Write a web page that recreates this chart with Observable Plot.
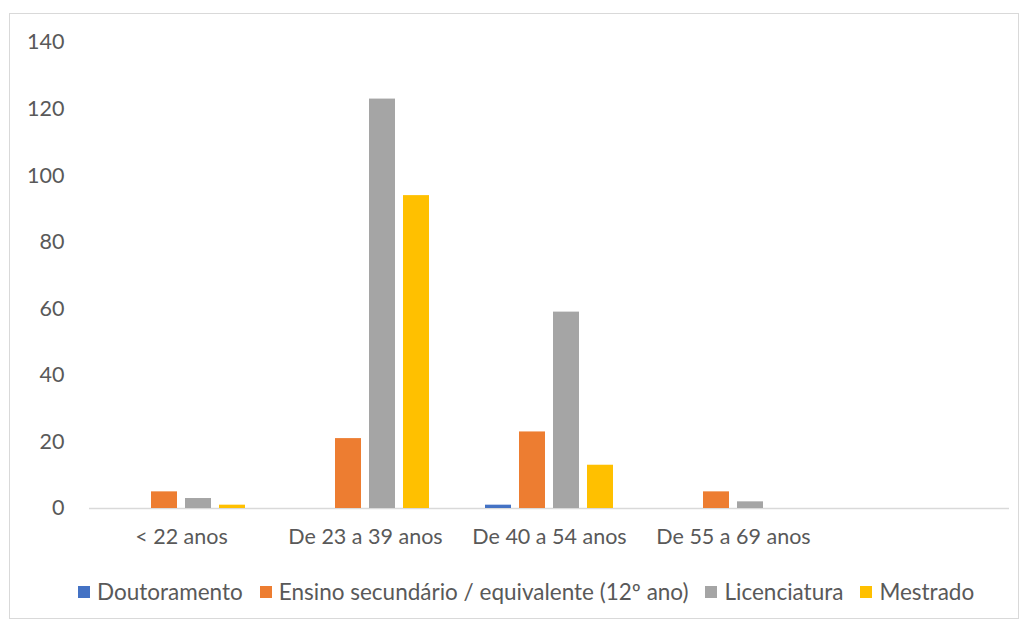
<!DOCTYPE html>
<html>
<head>
<meta charset="utf-8">
<script src="https://cdn.jsdelivr.net/npm/d3@7"></script>
<script src="https://cdn.jsdelivr.net/npm/@observablehq/plot@0.6"></script>
<style>
  html, body { margin: 0; padding: 0; background: #fff; }
  body { width: 1026px; height: 624px; position: relative; overflow: hidden; font-family: Lato, "Open Sans", sans-serif; }
  #frame { position: absolute; left: 9px; top: 13px; width: 1010px; height: 606px; border: 1px solid #d9d9d9; box-sizing: border-box; }
  #chart { position: absolute; left: 0; top: 0; }
  #legend { position: absolute; left: 78px; top: 578px; display: flex; gap: 17px; font-size: 22.5px; line-height: 28px; color: #595959; white-space: nowrap; }
  #legend .item { display: flex; align-items: center; gap: 7px; }
  #legend .sw { width: 12px; height: 12px; display: inline-block; }
</style>
</head>
<body>
<div id="frame"></div>
<div id="chart"></div>
<div id="legend"></div>
<script>
const categories = ["< 22 anos", "De 23 a 39 anos", "De 40 a 54 anos", "De 55 a 69 anos", " "];
const series = ["Doutoramento", "Ensino secundário / equivalente (12º ano)", "Licenciatura", "Mestrado"];
const colors = ["#4472C4", "#ED7D31", "#A5A5A5", "#FFC000"];
const doutoramento = [0, 0, 1, 0];
const ensinoSecundario = [5, 21, 23, 5];
const licenciatura = [3, 123, 59, 2];
const mestrado = [1, 94, 13, 0];
const yTicks = [0, 20, 40, 60, 80, 100, 120, 140];

const valuesBySeries = [doutoramento, ensinoSecundario, licenciatura, mestrado];
const data = [];
series.forEach((s, si) => {
  valuesBySeries[si].forEach((v, ci) => {
    data.push({category: categories[ci], series: s, value: v});
  });
});

const chart = Plot.plot({
  width: 1026,
  height: 560,
  marginLeft: 88,
  marginRight: 16,
  marginTop: 42,
  marginBottom: 52,
  style: {fontFamily: "Lato, 'Open Sans', sans-serif", fontSize: "21.5px", color: "#595959", background: "transparent"},
  fx: {domain: categories, paddingInner: 0, paddingOuter: 0, label: null, tickSize: 0, tickPadding: 20},
  x: {domain: series, paddingInner: 0.24, paddingOuter: 0.82, axis: null},
  y: {domain: [0, 140], ticks: yTicks, tickSize: 0, tickPadding: 25, label: null, line: false},
  color: {domain: series, range: colors},
  marks: [
    Plot.ruleY(categories, {fx: d => d, y: () => 0, stroke: "#d9d9d9", strokeWidth: 1.5}),
    Plot.barY(data, {fx: "category", x: "series", y: "value", fill: "series"})
  ]
});
document.getElementById("chart").appendChild(chart);

const legend = document.getElementById("legend");
series.forEach((s, i) => {
  const item = document.createElement("div");
  item.className = "item";
  const sw = document.createElement("span");
  sw.className = "sw";
  sw.style.background = colors[i];
  const label = document.createElement("span");
  label.textContent = s;
  item.appendChild(sw);
  item.appendChild(label);
  legend.appendChild(item);
});
</script>
</body>
</html>
